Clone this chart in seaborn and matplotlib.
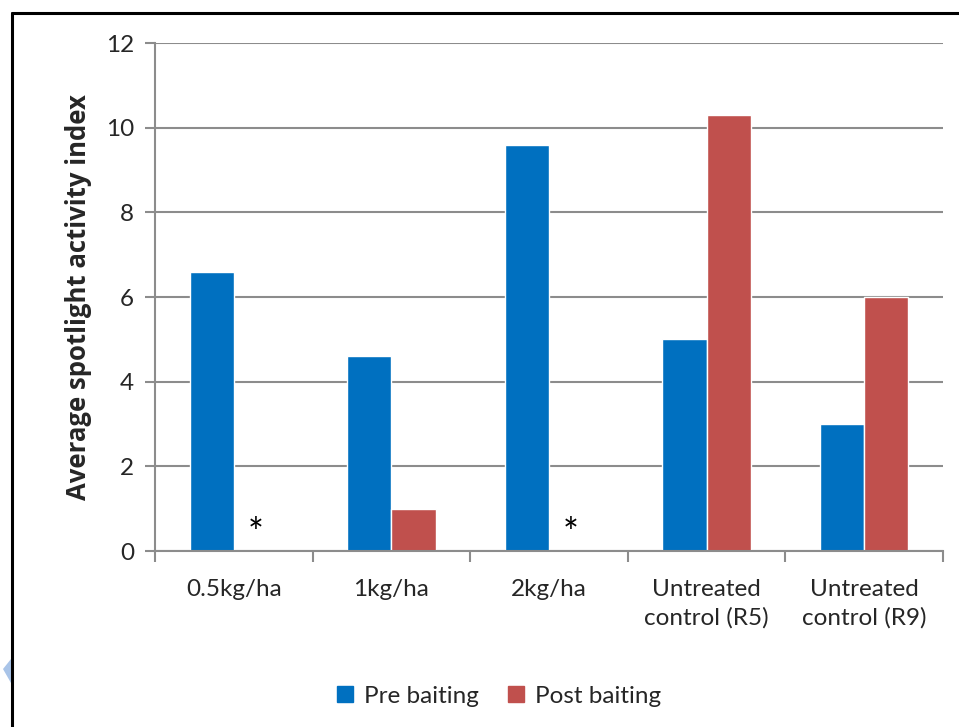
import numpy as np
import pandas as pd
import matplotlib
matplotlib.use("Agg")
import matplotlib.pyplot as plt
from matplotlib.lines import Line2D
from matplotlib.patches import Polygon
import seaborn as sns

categories = ["0.5kg/ha", "1kg/ha", "2kg/ha", "Untreated\ncontrol (R5)", "Untreated\ncontrol (R9)"]
pre_baiting = [6.6, 4.6, 9.6, 5.0, 3.0]
post_baiting = [np.nan, 1.0, np.nan, 10.3, 6.0]
series_names = ["Pre baiting", "Post baiting"]
colors = ["#0070C0", "#C0504D"]

df = pd.DataFrame({
    "category": categories * 2,
    "value": pre_baiting + post_baiting,
    "series": [series_names[0]] * len(categories) + [series_names[1]] * len(categories),
})

sns.set_style("white")
plt.rcParams["font.family"] = ["Lato", "DejaVu Sans"]

fig = plt.figure(figsize=(9.59, 7.27), dpi=100)
ax = fig.add_axes([155 / 959, 1 - 551 / 727, (943 - 155) / 959, (551 - 43) / 727])

sns.barplot(data=df, x="category", y="value", hue="series", palette=colors,
            width=0.56, saturation=1, ax=ax, legend=True, errorbar=None)

# asterisks mark groups with no post-baiting count
for i, v in enumerate(post_baiting):
    if np.isnan(v):
        ax.text(i + 0.14, 0.38, "*", ha="center", va="center", fontsize=27, color="black")

ax.set_ylim(0, 12)
ax.set_yticks(np.arange(0, 13, 2))
ax.set_xlim(-0.5, len(categories) - 0.5)
ax.yaxis.grid(True, color="#8c8c8c", linewidth=1.5)
ax.set_axisbelow(True)

ax.set_xlabel("")
ax.set_ylabel("Average spotlight activity index", fontsize=18.5, fontweight="bold",
              family=["Open Sans", "DejaVu Sans"], labelpad=10)

for s in ["top", "right"]:
    ax.spines[s].set_visible(False)
for s in ["left", "bottom"]:
    ax.spines[s].set_color("#8c8c8c")
    ax.spines[s].set_linewidth(1.5)

tick_fs = 17.5
ax.tick_params(axis="y", which="major", left=True, length=7, width=1.5, color="#8c8c8c",
               labelsize=tick_fs, pad=8)
ax.set_xticks(np.arange(len(categories)))
ax.set_xticklabels(categories, fontsize=tick_fs, linespacing=1.35)
ax.tick_params(axis="x", which="major", bottom=False, labelsize=tick_fs, pad=17)
ax.set_xticks(np.arange(-0.5, len(categories)), minor=True)
ax.tick_params(axis="x", which="minor", bottom=True, length=8, width=1.5, color="#8c8c8c")

ax.legend_.remove()
proxy = [Line2D([], [], marker="s", linestyle="none", markersize=12, markerfacecolor=c,
                markeredgecolor=c) for c in colors]
fig.legend(proxy, series_names, loc="center", bbox_to_anchor=(497 / 959, 1 - 696 / 727),
           ncol=2, frameon=False, fontsize=tick_fs, handletextpad=0.3, columnspacing=1.0,
           handlelength=1.0)

# slide frame edges and corner marker
fig.add_artist(Line2D([12 / 959, 12 / 959], [0, 1 - 13 / 727], color="black", linewidth=2.2,
                      transform=fig.transFigure))
fig.add_artist(Line2D([12 / 959, 1], [1 - 13 / 727, 1 - 13 / 727], color="black", linewidth=2.2,
                      transform=fig.transFigure))
fig.add_artist(Polygon([[3 / 959, 1 - 669 / 727], [11 / 959, 1 - 659 / 727], [11 / 959, 1 - 683 / 727]],
                       closed=True, facecolor="#a9c4e8", edgecolor="none", transform=fig.transFigure))

fig.savefig("out.png", dpi=100)
